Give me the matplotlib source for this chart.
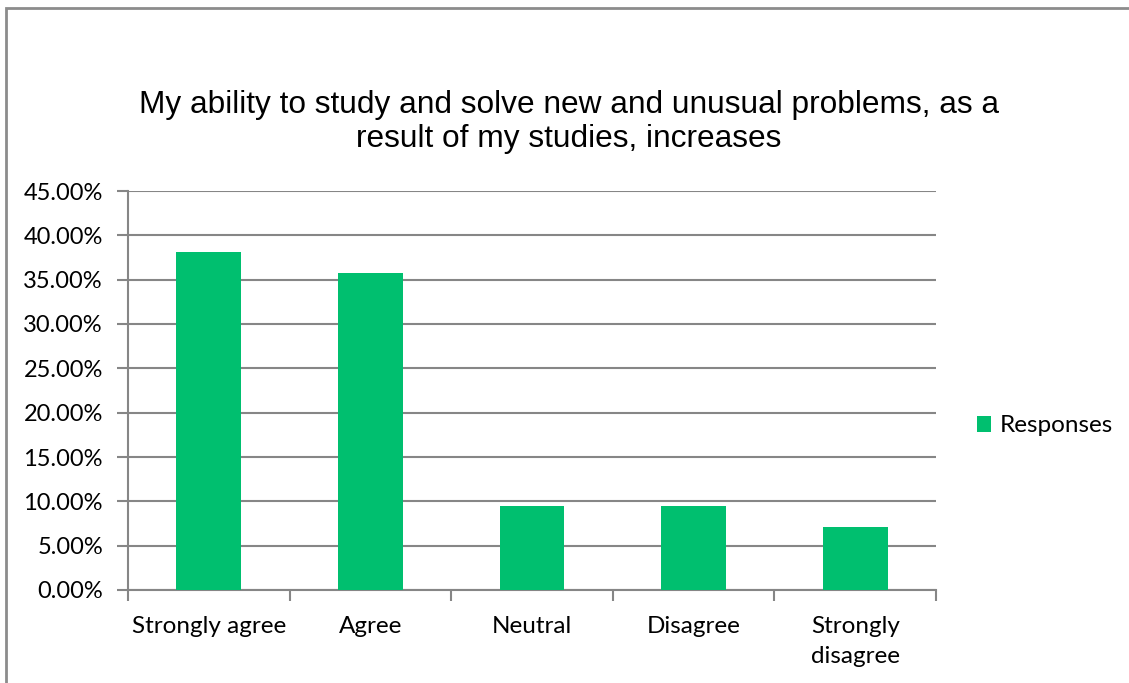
import matplotlib.pyplot as plt
from matplotlib.patches import Rectangle
from matplotlib.ticker import PercentFormatter

categories = ["Strongly agree", "Agree", "Neutral", "Disagree", "Strongly\ndisagree"]
responses = [38.10, 35.71, 9.52, 9.52, 7.14]
yticks = [0, 5, 10, 15, 20, 25, 30, 35, 40, 45]

bar_color = "#00BF6F"
grid_color = "#868686"


def main():
	fig = plt.figure(figsize=(11.29, 6.83), dpi=100)
	W, H = 1129, 683

	# outer chart border (runs off right and bottom edges)
	fig.patches.append(Rectangle((6 / W, -0.05), 1.1, 1 - 8 / H + 0.05,
		transform=fig.transFigure, fill=False, edgecolor="#8c8c8c", linewidth=2))

	ax = fig.add_axes([128 / W, 93 / H, 808 / W, 399 / H])
	x = list(range(len(categories)))
	ax.bar(x, responses, width=0.4, color=bar_color, label="Responses", zorder=3)

	ax.set_xlim(-0.5, len(categories) - 0.5)
	ax.set_ylim(0, 45)
	ax.set_yticks(yticks)
	ax.yaxis.set_major_formatter(PercentFormatter(decimals=2))
	ax.yaxis.grid(True, color=grid_color, linewidth=1.5, zorder=0)

	ax.set_xticks(x)
	ax.set_xticklabels(categories, fontfamily="Lato", fontsize=17.5, linespacing=1.5)
	ax.set_xticks([i - 0.5 for i in range(len(categories) + 1)], minor=True)
	ax.tick_params(axis="x", which="major", length=0, pad=19)
	ax.tick_params(axis="x", which="minor", length=8, width=1.5, color=grid_color)
	ax.tick_params(axis="y", length=8, width=1.5, color=grid_color, pad=10)
	for lab in ax.get_yticklabels():
		lab.set_fontfamily("Lato")
		lab.set_fontsize(17)

	for side in ["top", "right"]:
		ax.spines[side].set_visible(False)
	ax.spines["left"].set_color(grid_color)
	ax.spines["left"].set_linewidth(1.5)
	ax.spines["bottom"].set_color(grid_color)
	ax.spines["bottom"].set_linewidth(1.5)

	fig.text(569 / W, 1 - 122 / H, "My ability to study and solve new and unusual problems, as a\nresult of my studies, increases",
		ha="center", va="center", fontfamily="Liberation Sans", fontsize=22.8, linespacing=1.2)

	fig.legend(loc="center left", bbox_to_anchor=(955 / W, 1 - 426 / H), frameon=False,
		prop={"family": "Lato", "size": 17.5}, handlelength=0.6, handleheight=0.6, handletextpad=0.35)

	fig.savefig("out.png", dpi=100)


if __name__ == "__main__":
	main()
